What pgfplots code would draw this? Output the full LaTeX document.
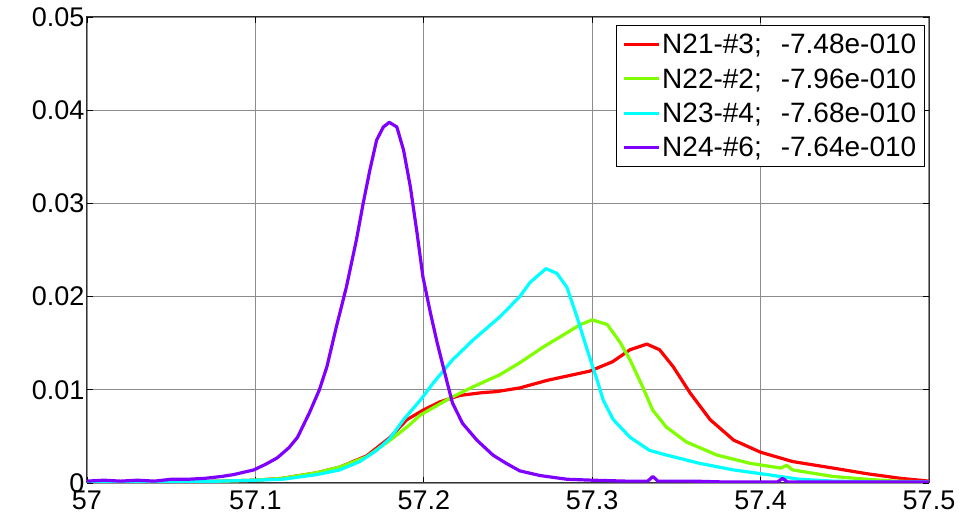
\documentclass[border=0pt]{standalone}
\usepackage{fontspec}
\setmainfont{Liberation Sans}
\usepackage{pgfplots}
\pgfplotsset{compat=1.18}
\definecolor{cA}{RGB}{255,0,0}
\definecolor{cB}{RGB}{128,255,0}
\definecolor{cC}{RGB}{0,255,255}
\definecolor{cD}{RGB}{128,0,255}
\begin{document}
\begin{tikzpicture}
\begin{axis}[
  width=842pt, height=466pt, scale only axis,
  xmin=57, xmax=57.5, ymin=0, ymax=0.05,
  xtick={57,57.1,57.2,57.3,57.4,57.5},
  xticklabels={57,57.1,57.2,57.3,57.4,57.5},
  ytick={0,0.01,0.02,0.03,0.04,0.05},
  yticklabels={0,0.01,0.02,0.03,0.04,0.05},
  scaled x ticks=false, scaled y ticks=false,
  tick label style={font=\fontsize{27}{30}\selectfont},
  xticklabel style={yshift=-4pt},
  yticklabel style={xshift=1pt},
  major tick length=6pt,
  tick style={black, line width=0.8pt},
  grid=major,
  major grid style={gray!90, line width=1.2pt},
  axis line style={black!80, line width=1pt},
  legend style={at={(rel axis cs:0.995,0.983)}, anchor=north east,
    font=\fontsize{28}{30}\selectfont, draw=black, line width=1pt,
    row sep=9pt, inner xsep=6pt, inner ysep=7pt, cells={anchor=west}},
  legend image code/.code={\draw[#1, line width=3pt] (0pt,0pt) -- (35pt,0pt);},
  every axis plot/.append style={line width=3.2pt, line join=round},
]
\addplot[cA] coordinates {
(57.000,0.0001)(57.050,0.0001)(57.080,0.0002)(57.100,0.0003)(57.116,0.0005)
(57.1365,0.0011)(57.150,0.0017)(57.166,0.0029)(57.180,0.0049)(57.190,0.0068)
(57.1995,0.0078)(57.2095,0.0087)(57.2215,0.0094)(57.235,0.0097)(57.243,0.0098)
(57.257,0.0102)(57.273,0.0110)(57.2985,0.0120)(57.312,0.0130)(57.3225,0.0143)
(57.3325,0.0149)(57.340,0.0143)(57.348,0.0125)(57.358,0.0097)(57.370,0.0068)
(57.384,0.0046)(57.400,0.0033)(57.419,0.0023)(57.443,0.0016)(57.463,0.0010)
(57.483,0.0005)(57.500,0.0002)};
\addlegendentry{N21-\#3;\hspace{19pt}-7.48e-010}
\addplot[cB] coordinates {
(57.000,0.0001)(57.050,0.0001)(57.080,0.0002)(57.100,0.0003)(57.116,0.0005)
(57.1365,0.0011)(57.150,0.0017)(57.166,0.0028)(57.180,0.0046)(57.190,0.0060)
(57.198,0.0073)(57.2155,0.0091)(57.229,0.0103)(57.245,0.0116)(57.257,0.0129)
(57.271,0.0146)(57.283,0.0159)(57.293,0.0170)(57.300,0.0175)(57.309,0.0170)
(57.3165,0.0151)(57.3225,0.0132)(57.330,0.0103)(57.336,0.0078)(57.344,0.0060)
(57.356,0.0044)(57.374,0.0030)(57.394,0.0021)(57.412,0.0016)(57.4155,0.0019)
(57.419,0.0014)(57.443,0.0007)(57.463,0.0004)(57.480,0.0002)(57.500,0.0001)};
\addlegendentry{N22-\#2;\hspace{19pt}-7.96e-010}
\addplot[cC] coordinates {
(57.000,0.0001)(57.050,0.0001)(57.080,0.0002)(57.100,0.0003)(57.116,0.0004)
(57.1365,0.0009)(57.150,0.0014)(57.162,0.0023)(57.172,0.0035)(57.180,0.0048)
(57.188,0.0068)(57.198,0.0089)(57.2055,0.0107)(57.217,0.0132)(57.229,0.0153)
(57.245,0.0178)(57.257,0.0200)(57.263,0.0215)(57.2725,0.0230)(57.279,0.0225)
(57.285,0.0210)(57.291,0.0178)(57.297,0.0143)(57.303,0.0110)(57.3065,0.0089)
(57.3125,0.0068)(57.3225,0.0049)(57.334,0.0035)(57.344,0.0030)(57.364,0.0021)
(57.384,0.0014)(57.404,0.0009)(57.423,0.0004)(57.443,0.0002)(57.470,0.0001)
(57.500,0.0001)};
\addlegendentry{N23-\#4;\hspace{19pt}-7.68e-010}
\addplot[cD] coordinates {
(57.000,0.0002)(57.010,0.0003)(57.020,0.0002)(57.030,0.0003)(57.040,0.0002)
(57.050,0.0004)(57.060,0.0004)(57.070,0.0005)(57.080,0.0007)(57.087,0.0009)
(57.099,0.0014)(57.106,0.0020)(57.113,0.0027)(57.120,0.0038)(57.125,0.0049)
(57.132,0.0075)(57.138,0.0100)(57.1425,0.0125)(57.148,0.0167)(57.154,0.0210)
(57.160,0.0261)(57.164,0.0300)(57.168,0.0336)(57.172,0.0368)(57.176,0.0382)
(57.1795,0.0387)(57.184,0.0382)(57.188,0.0357)(57.192,0.0318)(57.196,0.0268)
(57.1995,0.0221)(57.204,0.0182)(57.208,0.0150)(57.214,0.0107)(57.217,0.0086)
(57.223,0.0064)(57.2315,0.0046)(57.241,0.0030)(57.249,0.0021)(57.257,0.0013)
(57.269,0.0008)(57.285,0.0004)(57.300,0.0003)(57.320,0.0002)(57.333,0.0002)
(57.336,0.0007)(57.339,0.0002)(57.360,0.0002)(57.380,0.0001)(57.410,0.0001)
(57.413,0.0005)(57.416,0.0001)(57.450,0.0001)(57.500,0.0001)};
\addlegendentry{N24-\#6;\hspace{19pt}-7.64e-010}
\end{axis}
\pgfresetboundingbox
\path (current axis.south west) ++(-87pt,-34pt) coordinate (bbA)
      (current axis.north east) ++(40pt,17pt) coordinate (bbB);
\path[use as bounding box] (bbA) rectangle (bbB);
\end{tikzpicture}
\end{document}
